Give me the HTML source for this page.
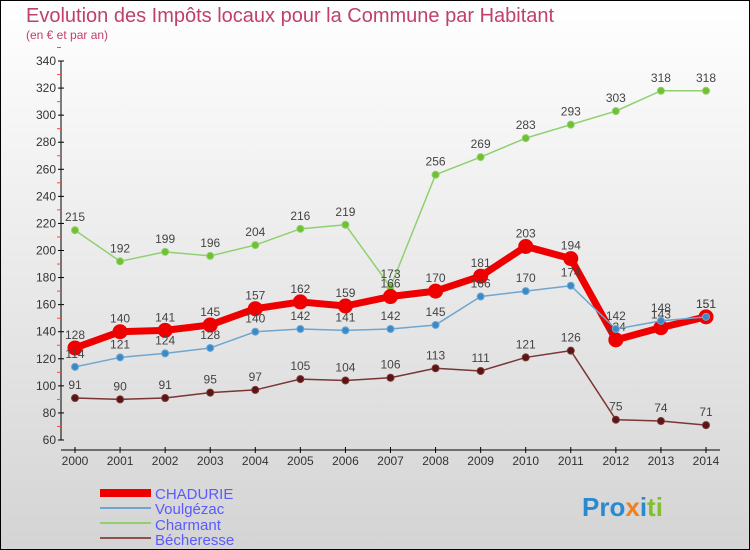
<!DOCTYPE html>
<html><head><meta charset="utf-8"><style>
body{margin:0;width:750px;height:550px;overflow:hidden;font-family:"Liberation Sans",sans-serif}
svg{display:block}
</style></head><body>
<svg id="c" width="750" height="550" xmlns="http://www.w3.org/2000/svg">
<defs><linearGradient id="bg" x1="0" y1="0" x2="0" y2="1"><stop offset="0" stop-color="#ffffff"/><stop offset="1" stop-color="#d4d4d4"/></linearGradient></defs>
<rect x="0.5" y="0.5" width="749" height="549" fill="url(#bg)" stroke="#000"/>
<text x="26" y="22" font-size="20" fill="#c0406a">Evolution des Impôts locaux pour la Commune par Habitant</text>
<text x="26" y="39" font-size="12" fill="#c0406a">(en € et par an)</text>
<g id="axes"></g><g id="series"></g>
<g font-size="15" fill="#5a5aff">
<rect x="100" y="489" width="51" height="8" fill="#e00"/>
<text x="155" y="499">CHADURIE</text>
<line x1="100" y1="508" x2="151" y2="508" stroke="#6fa6d0" stroke-width="2"/>
<text x="155" y="514">Voulgézac</text>
<line x1="100" y1="523" x2="151" y2="523" stroke="#90d070" stroke-width="2"/>
<text x="155" y="530">Charmant</text>
<line x1="100" y1="538" x2="151" y2="538" stroke="#905050" stroke-width="2"/>
<text x="155" y="545">Bécheresse</text>
</g>
<text x="582" y="516" font-size="26" font-weight="bold"><tspan fill="#2a8ad0">Pro</tspan><tspan fill="#f08020">x</tspan><tspan fill="#2a8ad0">i</tspan><tspan fill="#80c030">ti</tspan></text>
</svg>
<script>
const years=[2000,2001,2002,2003,2004,2005,2006,2007,2008,2009,2010,2011,2012,2013,2014];
const yTicks=[60,80,100,120,140,160,180,200,220,240,260,280,300,320,340];
const chadurie=[128,140,141,145,157,162,159,166,170,181,203,194,134,143,151];
const voulgezac=[114,121,124,128,140,142,141,142,145,166,170,174,142,148,151];
const charmant=[215,192,199,196,204,216,219,173,256,269,283,293,303,318,318];
const becheresse=[91,90,91,95,97,105,104,106,113,111,121,126,75,74,71];
const NS="http://www.w3.org/2000/svg";
const X=i=>75+i*(631/14);
const Y=v=>440-(v-60)*(379/280);
function mk(t,a,p){const e=document.createElementNS(NS,t);for(const k in a)e.setAttribute(k,a[k]);p.appendChild(e);return e;}
const ax=document.getElementById('axes');
const yl=mk('line',{x1:61,y1:Y(340),x2:61,y2:Y(60),stroke:'#000'},ax);


yTicks.forEach(v=>{
 mk('line',{x1:58,y1:Y(v),x2:64,y2:Y(v),stroke:'#000'},ax);
 mk('line',{x1:57,y1:Y(v+10),x2:61,y2:Y(v+10),stroke:'#f44'},ax);
 const t=mk('text',{x:56,y:Y(v)+4,'text-anchor':'end','font-size':12,fill:'#333'},ax);t.textContent=v;
 
 
});
const xl=mk('line',{x1:61,y1:450,x2:720,y2:450,stroke:'#000'},ax);


years.forEach((y,i)=>{
 mk('line',{x1:X(i),y1:447,x2:X(i),y2:453,stroke:'#000'},ax);
 const t=mk('text',{x:X(i),y:465,'text-anchor':'middle','font-size':12,fill:'#333'},ax);t.textContent=y;
 
 
});
const sg=document.getElementById('series');
function series(data,name,color,dot,w,r){
 const g=mk('g',{},sg);
 
 
 const pl=mk('polyline',{points:data.map((v,i)=>X(i)+','+Y(v)).join(' '),fill:'none',stroke:color,'stroke-width':w,'stroke-linejoin':'round'},g);
 
 
 data.forEach((v,i)=>{
  const c=mk('circle',{cx:X(i),cy:Y(v),r:r,fill:dot,stroke:color,'stroke-width':1},g);
  
  
  const t=mk('text',{x:X(i),y:Y(v)-9,'text-anchor':'middle','font-size':12,fill:'#444'},g);t.textContent=v;
  
  
 });
}
series(becheresse,'becheresse','#7a3535','#5a1515',1.5,3.5);
series(charmant,'charmant','#90d070','#70c030',1.5,3.5);
series(chadurie,'chadurie','#ee0000','#ee0000',7,7);
series(voulgezac,'voulgezac','#6fa6d0','#3a8ac8',1.5,3.5);
</script>
</body></html>
